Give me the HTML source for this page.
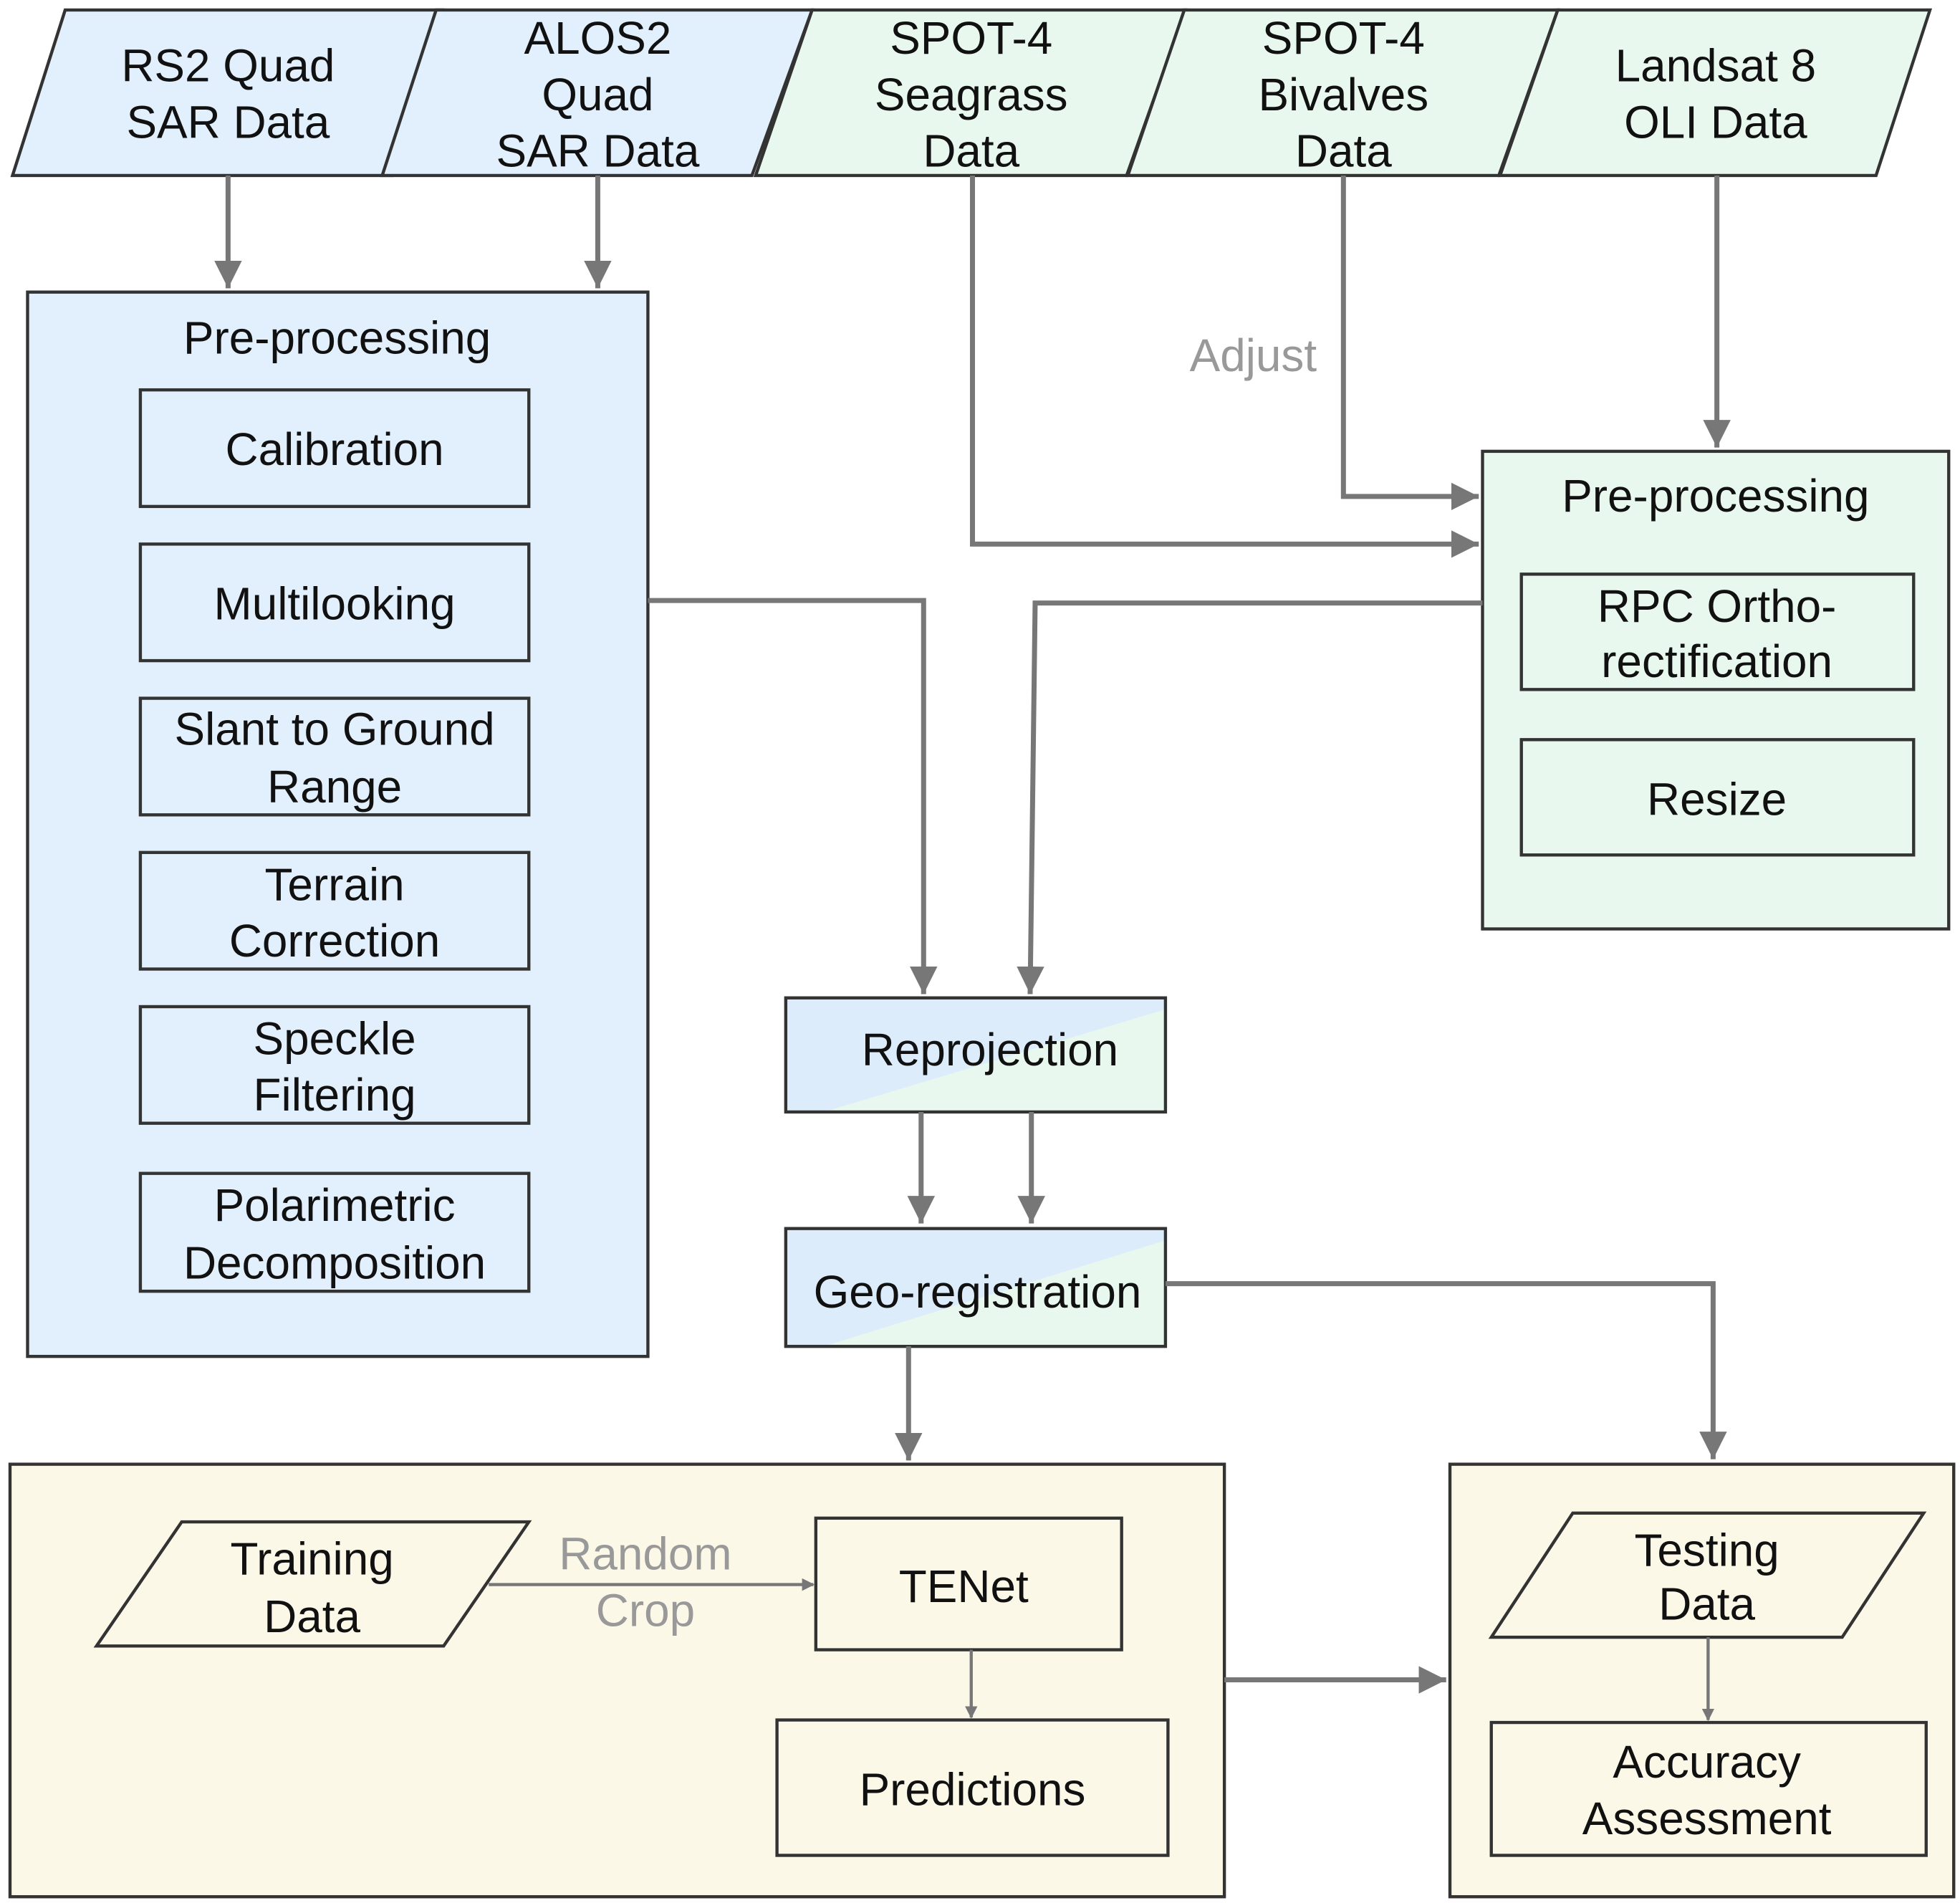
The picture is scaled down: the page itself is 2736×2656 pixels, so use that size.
<!DOCTYPE html>
<html><head><meta charset="utf-8"><style>html,body{margin:0;padding:0;background:#fff}svg{display:block}</style></head><body>
<svg width="2736" height="2656" viewBox="0 0 1564 1518" preserveAspectRatio="none" xmlns="http://www.w3.org/2000/svg" font-family="'Liberation Sans', sans-serif" font-size="36.5" fill="#111">
<defs>
<marker id="a" markerWidth="10" markerHeight="10" refX="9" refY="5" orient="auto" markerUnits="userSpaceOnUse" viewBox="0 0 10 10"><path d="M0,0 L10,5 L0,10 z" fill="#777"/></marker>
<marker id="A" viewBox="0 0 10 10" refX="10" refY="5" markerWidth="22" markerHeight="22" orient="auto" markerUnits="userSpaceOnUse"><path d="M0,0 L10,5 L0,10 z" fill="#777"/></marker>
<linearGradient id="g" x1="0" y1="0" x2="1" y2="1"><stop offset="0.55" stop-color="#dcecfb"/><stop offset="0.55" stop-color="#e8f8ee"/></linearGradient>
</defs>
<g stroke="#333" stroke-width="2.5">
<polygon points="52,8 353,8 313,140 10,140" fill="#e2effc"/>
<polygon points="348,8 648,8 600,140 305,140" fill="#e2effc"/>
<polygon points="648,8 946,8 899,140 603,140" fill="#e8f8ee"/>
<polygon points="945,8 1243,8 1196,140 900,140" fill="#e8f8ee"/>
<polygon points="1243,8 1540,8 1497,140 1197,140" fill="#e8f8ee"/>
<rect x="22" y="233" width="495" height="849" fill="#e2effc"/>
<rect x="112" y="311" width="310" height="93" fill="#e2effc"/>
<rect x="112" y="434" width="310" height="93" fill="#e2effc"/>
<rect x="112" y="557" width="310" height="93" fill="#e2effc"/>
<rect x="112" y="680" width="310" height="93" fill="#e2effc"/>
<rect x="112" y="803" width="310" height="93" fill="#e2effc"/>
<rect x="112" y="936" width="310" height="94" fill="#e2effc"/>
<rect x="1183" y="360" width="372" height="381" fill="#e8f8ee"/>
<rect x="1214" y="458" width="313" height="92" fill="#e8f8ee"/>
<rect x="1214" y="590" width="313" height="92" fill="#e8f8ee"/>
<rect x="627" y="796" width="303" height="91" fill="url(#g)"/>
<rect x="627" y="980" width="303" height="94" fill="url(#g)"/>
<rect x="8" y="1168" width="969" height="345" fill="#fcf8e8"/>
<rect x="1157" y="1168" width="402" height="345" fill="#fcf8e8"/>
<polygon points="145,1214 422,1214 354,1313 77,1313" fill="#fcf8e8"/>
<rect x="651" y="1211" width="244" height="105" fill="#fcf8e8"/>
<rect x="620" y="1372" width="312" height="108" fill="#fcf8e8"/>
<polygon points="1255,1207 1535,1207 1470,1306 1190,1306" fill="#fcf8e8"/>
<rect x="1190" y="1374" width="347" height="106" fill="#fcf8e8"/>
</g>
<g stroke="#777" stroke-width="4" fill="none" marker-end="url(#A)">
<path d="M182,140 V230"/>
<path d="M477,140 V230"/>
<path d="M1370,140 V357"/>
<path d="M1072,140 V396 H1180"/>
<path d="M776,140 V434 H1180"/>
<path d="M1183,481 H826 L822,793"/>
<path d="M517,479 H737 V793"/>
<path d="M735,887 V976"/>
<path d="M823,887 V976"/>
<path d="M725,1074 V1165"/>
<path d="M930,1024 H1367 V1164"/>
<path d="M977,1340 H1154"/>
</g>
<g stroke="#777" stroke-width="2.5" fill="none" marker-end="url(#a)">
<path d="M390,1264 H649"/>
<path d="M775,1316 V1370"/>
<path d="M1363,1306 V1372"/>
</g>
<g text-anchor="middle">
<text x="182" y="65">RS2 Quad</text><text x="182" y="110">SAR Data</text>
<text x="477" y="43">ALOS2</text><text x="477" y="88">Quad</text><text x="477" y="133">SAR Data</text>
<text x="775" y="43">SPOT-4</text><text x="775" y="88">Seagrass</text><text x="775" y="133">Data</text>
<text x="1072" y="43">SPOT-4</text><text x="1072" y="88">Bivalves</text><text x="1072" y="133">Data</text>
<text x="1369" y="65">Landsat 8</text><text x="1369" y="110">OLI Data</text>
<text x="269" y="282">Pre-processing</text>
<text x="267" y="371">Calibration</text>
<text x="267" y="494">Multilooking</text>
<text x="267" y="594">Slant to Ground</text><text x="267" y="640">Range</text>
<text x="267" y="718">Terrain</text><text x="267" y="763">Correction</text>
<text x="267" y="841">Speckle</text><text x="267" y="886">Filtering</text>
<text x="267" y="974">Polarimetric</text><text x="267" y="1020">Decomposition</text>
<text x="1369" y="408">Pre-processing</text>
<text x="1370" y="496">RPC Ortho-</text><text x="1370" y="540">rectification</text>
<text x="1370" y="650">Resize</text>
<text x="1000" y="296" fill="#999">Adjust</text>
<text x="790" y="850">Reprojection</text>
<text x="780" y="1043">Geo-registration</text>
<text x="249" y="1256">Training</text><text x="249" y="1302">Data</text>
<text x="515" y="1252" fill="#999">Random</text><text x="515" y="1297" fill="#999">Crop</text>
<text x="769" y="1278">TENet</text>
<text x="776" y="1440">Predictions</text>
<text x="1362" y="1249">Testing</text><text x="1362" y="1292">Data</text>
<text x="1362" y="1418">Accuracy</text><text x="1362" y="1463">Assessment</text>
</g>
</svg>
</body></html>
